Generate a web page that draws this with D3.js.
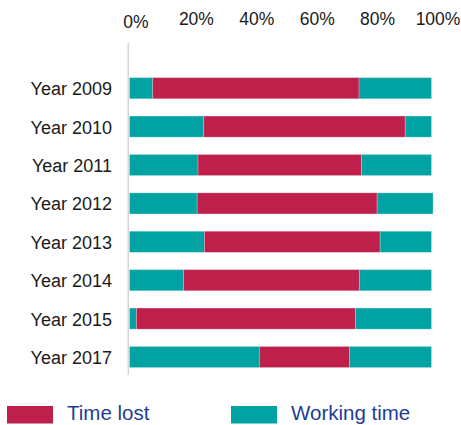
<!DOCTYPE html>
<html>
<head>
<meta charset="utf-8">
<script src="https://cdn.jsdelivr.net/npm/d3@7/dist/d3.min.js"></script>
<style>
  html, body { margin: 0; padding: 0; background: #fff; }
  svg { display: block; }
  text { font-family: "Liberation Sans", Arial, sans-serif; }
</style>
</head>
<body>
<svg id="chart" width="461" height="425"></svg>
<script>
// Share of each year: working time before, time lost, working time after (percent)
const years = ["Year 2009", "Year 2010", "Year 2011", "Year 2012", "Year 2013", "Year 2014", "Year 2015", "Year 2017"];
const workingBefore = [7.7, 24.6, 22.7, 22.4, 24.8, 17.9, 2.3, 43.0];
const timeLost      = [68.3, 66.7, 54.1, 59.6, 58.2, 58.2, 72.5, 29.9];
const workingAfter  = [24.0, 8.7, 23.2, 18.5, 17.0, 23.9, 25.2, 27.1];
const tickValues = [0, 20, 40, 60, 80, 100];
const tickLabels = ["0%", "20%", "40%", "60%", "80%", "100%"];
const legendLabels = ["Time lost", "Working time"];

const colorLost = "#BE1F4B";
const colorWork = "#00A3A2";

const svg = d3.select("#chart");

const x = d3.scaleLinear().domain([0, 100]).range([129.5, 431.5]);
const y = d3.scaleBand().domain(years).range([69, 376.2])
  .paddingInner(0.45).paddingOuter(0.225);

// Stack the three segments per year
const rows = years.map((yr, i) => ({
  year: yr,
  segs: [
    { start: 0, value: workingBefore[i], color: colorWork },
    { start: workingBefore[i], value: timeLost[i], color: colorLost },
    { start: workingBefore[i] + timeLost[i], value: workingAfter[i], color: colorWork }
  ]
}));

// Vertical baseline at 0%
svg.append("line")
  .attr("x1", x(0) - 1.2).attr("x2", x(0) - 1.2)
  .attr("y1", 43).attr("y2", 375)
  .attr("stroke", "#d6d6d6").attr("stroke-width", 1.5);

const g = svg.append("g");
g.selectAll("g.row").data(rows).join("g").attr("class", "row")
  .selectAll("rect").data(d => d.segs.map(s => ({ ...s, year: d.year }))).join("rect")
  .attr("x", d => x(d.start))
  .attr("y", d => y(d.year))
  .attr("width", d => x(d.start + d.value) - x(d.start))
  .attr("height", y.bandwidth())
  .attr("fill", d => d.color)
  .attr("stroke", "#ffffff")
  .attr("stroke-opacity", 0.3)
  .attr("stroke-width", 0.8);

// Top percentage axis
const xAxis = d3.axisTop(x).tickValues(tickValues)
  .tickFormat((d, i) => tickLabels[i]).tickSize(0).tickPadding(0);
const ax = svg.append("g").attr("transform", "translate(6,25)").call(xAxis);
ax.select(".domain").remove();
ax.selectAll("text")
  .attr("font-size", "17.5px")
  .attr("fill", "#1a1a1a")
  .attr("y", 0)
  .attr("dy", (d, i) => i === 0 ? "2.5" : "0")
  .attr("font-family", "'Liberation Sans', Arial, sans-serif");

// Year labels
const yAxis = d3.axisLeft(y).tickSize(0).tickPadding(0);
const ay = svg.append("g").attr("transform", "translate(112,0)").call(yAxis);
ay.select(".domain").remove();
ay.selectAll("text")
  .attr("font-size", "18px")
  .attr("fill", "#1a1a1a")
  .attr("dy", "0.39em")
  .attr("font-family", "'Liberation Sans', Arial, sans-serif");

// Legend
const legendColors = [colorLost, colorWork];
const legendX = [7, 231];
const lg = svg.append("g");
legendLabels.forEach((lab, i) => {
  lg.append("rect")
    .attr("x", legendX[i]).attr("y", 406)
    .attr("width", 46).attr("height", 17.5)
    .attr("fill", legendColors[i]);
  lg.append("text")
    .attr("x", legendX[i] + 60).attr("y", 420)
    .attr("font-size", "20.5px")
    .attr("fill", "#1F3C94")
    .text(lab);
});
</script>
</body>
</html>
